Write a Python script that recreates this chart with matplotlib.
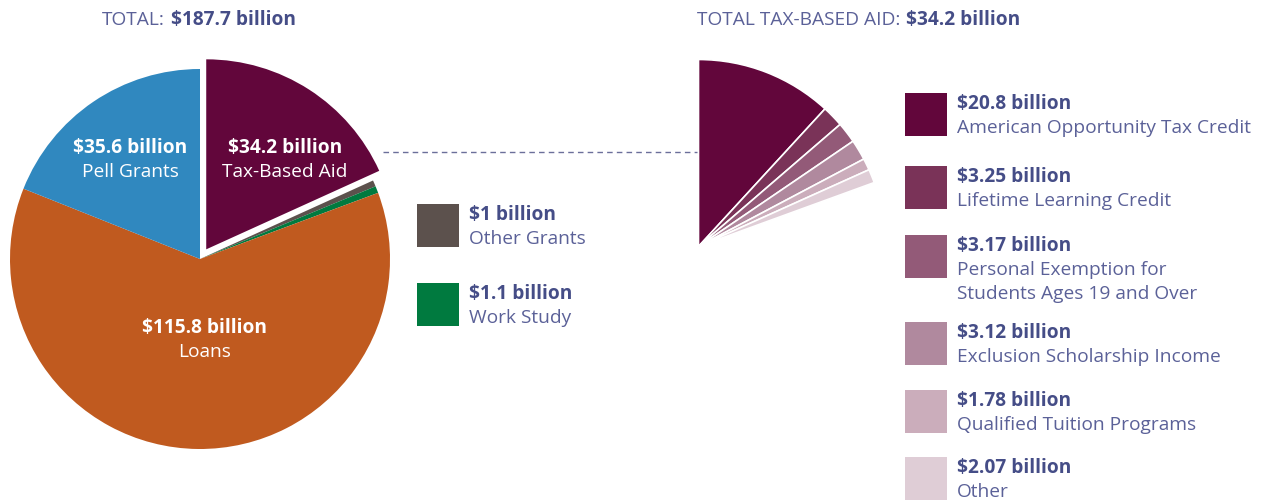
import matplotlib.pyplot as plt

plt.rcParams['font.family'] = ['Open Sans', 'DejaVu Sans']

# overall student aid, billions of dollars
aid_labels = ["Tax-Based Aid", "Other Grants", "Work Study", "Loans", "Pell Grants"]
aid_values = [34.2, 1.0, 1.1, 115.8, 35.6]
aid_text = ["$34.2 billion", "$1 billion", "$1.1 billion", "$115.8 billion", "$35.6 billion"]
aid_colors = ["#62063b", "#5c514d", "#007a3f", "#c05a1f", "#3088bf"]

# breakdown of the tax-based aid
tax_labels = ["American Opportunity Tax Credit", "Lifetime Learning Credit",
              "Personal Exemption for\nStudents Ages 19 and Over",
              "Exclusion Scholarship Income", "Qualified Tuition Programs", "Other"]
tax_values = [20.8, 3.25, 3.17, 3.12, 1.78, 2.07]
tax_text = ["$20.8 billion", "$3.25 billion", "$3.17 billion", "$3.12 billion",
            "$1.78 billion", "$2.07 billion"]
tax_colors = ["#62063b", "#7a3358", "#935a78", "#b0899e", "#cbadbb", "#dfcdd6"]

W, H = 1264, 500
BOLD = "#454d87"
REG = "#5b6198"

fig = plt.figure(figsize=(W / 100, H / 100), dpi=100)
ax = fig.add_axes([0, 0, 1, 1])


def Y(y):
    # work in pixel coordinates measured from the top
    return H - y


# explode is in data units here (pixels), not a fraction of the radius
explode = [11.5, 0, 0, 0, 0]
ax.pie(aid_values, colors=aid_colors, startangle=90, counterclock=False,
       center=(200, Y(259)), radius=190, explode=explode,
       wedgeprops=dict(linewidth=0))

# fan of the tax-based slice, spread over a fixed arc
tax_total = sum(tax_values)
fan_span = 70.0
fracs = [v / tax_total * fan_span / 360 for v in tax_values]
ax.pie(fracs, colors=tax_colors, startangle=90, counterclock=False,
       center=(698.5, Y(246.5)), radius=187, normalize=False,
       wedgeprops=dict(linewidth=1.2, edgecolor="white"))

ax.set_xlim(0, W)
ax.set_ylim(0, H)
ax.set_aspect("equal")
ax.axis("off")

# link between the two charts
ax.plot([383, 697], [Y(152), Y(152)], ls=(0, (4, 3)), color="#6b6f9a", lw=1)

fs = 13.8
# labels on the main pie
in_pie = {0: (285, 148), 3: (205, 328), 4: (130, 148)}
for i, (x, y) in in_pie.items():
    ax.text(x, Y(y), aid_text[i], color="white", fontsize=fs, fontweight="bold",
            ha="center", va="center")
    ax.text(x, Y(y + 24), aid_labels[i], color="white", fontsize=fs,
            ha="center", va="center")


def legend_item(x, y, color, value, label):
    ax.add_patch(plt.Rectangle((x, Y(y + 43)), 42, 43, color=color, lw=0))
    ax.text(x + 52, Y(y + 11), value, color=BOLD, fontsize=fs, fontweight="bold",
            ha="left", va="center")
    for k, line in enumerate(label.split("\n")):
        ax.text(x + 52, Y(y + 35 + 24 * k), line, color=REG, fontsize=fs,
                ha="left", va="center")


legend_item(417, 204, aid_colors[1], aid_text[1], aid_labels[1])
legend_item(417, 283, aid_colors[2], aid_text[2], aid_labels[2])

tax_rows = [93, 166, 235, 322, 390, 457]
for y, c, v, lab in zip(tax_rows, tax_colors, tax_text, tax_labels):
    legend_item(905, y, c, v, lab)


def title(x, y, light, bold):
    t = ax.text(x, Y(y), light, color=REG, fontsize=fs, ha="left", va="center")
    fig.canvas.draw()
    bb = t.get_window_extent()
    ax.text(bb.x1 + 6, Y(y), bold, color=BOLD, fontsize=fs, fontweight="bold",
            ha="left", va="center")


title(102, 20, "TOTAL:", "$187.7 billion")
title(697, 20, "TOTAL TAX-BASED AID:", "$34.2 billion")

fig.savefig("out.png", dpi=100)
